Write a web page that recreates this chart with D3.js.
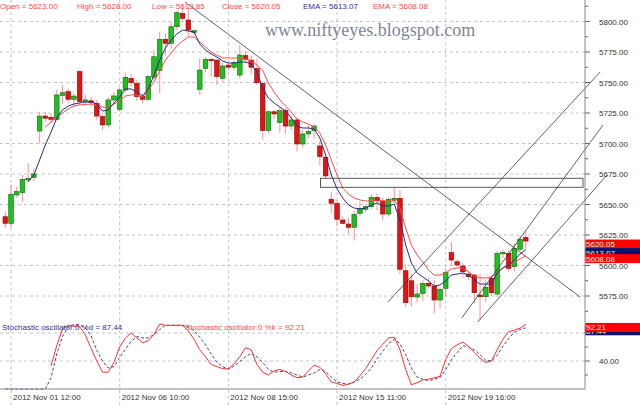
<!DOCTYPE html>
<html><head><meta charset="utf-8">
<script src="https://cdn.jsdelivr.net/npm/d3@7"></script>
<style>body{margin:0;background:#fff}svg{display:block}</style>
</head><body><svg id="c" width="640" height="405"></svg>
<script>
// ---- data (hourly NIFTY candles, bar index 0..91) ----
const opens=[5640.0,5634.6,5657.8,5659.7,5670.1,5672.3,5710.2,5722.5,5721.5,5719.8,
5739.5,5742.5,5736.2,5758.9,5734.3,5735.0,5733.0,5722.0,5715.2,5735.7,
5728.0,5743.9,5753.4,5749.3,5738.4,5736.2,5754.3,5759.7,5785.4,5782.1,
5795.7,5806.7,5801.2,5791.0,5744.4,5761.6,5769.0,5768.4,5753.4,5764.3,
5762.5,5756.1,5772.0,5768.4,5761.6,5749.3,5710.5,5726.0,5717.1,5726.9,
5714.3,5719.3,5699.6,5707.8,5710.5,5698.0,5688.7,5654.3,5651.0,5637.3,
5634.0,5631.3,5642.8,5646.1,5648.2,5655.9,5652.9,5642.2,5653.5,5655.1,
5595.7,5587.5,5574.1,5577.2,5585.4,5583.2,5571.7,5581.3,5610.5,5603.1,
5599.6,5593.0,5592.2,5575.8,5574.4,5589.5,5576.6,5609.8,5610.0,5599.0,
5613.3,5623.0];
const highs=[5644.1,5666.0,5664.6,5674.2,5684.0,5679.7,5726.0,5726.0,5724.7,5743.9,
5748.0,5745.0,5741.0,5760.0,5740.0,5738.0,5736.0,5724.0,5738.0,5742.0,
5746.0,5758.0,5757.0,5752.0,5741.0,5756.0,5777.0,5791.6,5790.0,5800.0,
5809.0,5813.5,5812.0,5793.0,5769.8,5771.0,5770.0,5769.0,5766.0,5766.0,
5768.0,5780.7,5776.0,5772.0,5769.8,5751.0,5727.0,5727.0,5730.0,5729.0,
5723.0,5721.0,5711.0,5715.0,5716.0,5702.0,5690.0,5660.5,5653.5,5640.0,
5639.0,5645.0,5652.0,5650.0,5658.6,5659.0,5656.0,5656.0,5664.6,5661.9,
5601.0,5593.0,5585.0,5588.0,5590.0,5588.1,5582.0,5598.0,5619.5,5605.0,
5602.0,5596.0,5593.0,5593.0,5588.0,5591.0,5612.0,5613.0,5613.0,5618.0,
5624.5,5628.0];
const lows=[5630.7,5630.7,5655.3,5652.3,5668.0,5668.7,5700.2,5718.0,5716.6,5718.9,
5733.0,5733.0,5730.0,5731.6,5731.0,5730.0,5719.0,5711.0,5713.0,5733.0,
5726.0,5742.0,5746.6,5735.0,5733.0,5735.0,5752.0,5741.0,5772.0,5778.0,
5793.0,5799.0,5787.5,5789.0,5739.8,5758.0,5754.8,5748.0,5750.0,5760.0,
5760.0,5753.0,5766.0,5757.0,5748.0,5702.9,5708.0,5720.0,5709.0,5708.0,
5711.0,5693.3,5697.0,5704.0,5704.0,5681.6,5671.5,5642.8,5631.8,5634.0,
5626.0,5620.3,5640.0,5644.0,5646.5,5645.0,5637.0,5640.0,5651.0,5593.0,
5566.2,5566.2,5570.0,5571.0,5581.0,5560.8,5565.0,5575.0,5600.4,5599.0,
5590.0,5588.0,5569.0,5555.5,5570.0,5575.0,5574.0,5606.0,5595.0,5595.0,
5612.0,5613.85];
const closes=[5634.6,5658.4,5660.5,5670.6,5671.5,5675.0,5722.5,5720.7,5719.8,5739.8,
5741.6,5736.2,5738.9,5734.3,5735.7,5733.5,5722.5,5715.2,5735.7,5739.0,
5743.9,5754.3,5749.8,5738.4,5736.2,5754.8,5771.1,5785.4,5782.1,5795.7,
5807.2,5802.6,5793.0,5792.5,5760.2,5769.0,5767.9,5754.8,5763.5,5762.5,
5766.2,5772.5,5769.0,5762.5,5749.8,5710.5,5726.0,5724.2,5726.9,5714.3,
5719.3,5699.6,5707.8,5709.8,5714.3,5689.2,5673.4,5651.0,5637.9,5634.6,
5631.3,5642.0,5646.9,5648.2,5655.9,5653.1,5642.2,5654.3,5655.1,5596.9,
5569.5,5574.4,5576.7,5585.4,5583.2,5571.7,5580.5,5594.1,5604.5,5600.4,
5594.9,5590.8,5577.7,5574.4,5582.1,5577.7,5610.0,5610.8,5597.7,5614.0,
5621.5,5620.05];
const emaFast=[null,null,null,null,5668.7,5674.2,5686.5,5698.8,5709.4,5720.9,
5727.5,5730.7,5732.4,5733.2,5734.0,5734.0,5732.4,5726.6,5727.5,5733.2,
5738.1,5744.7,5744.7,5742.2,5738.9,5744.7,5756.1,5768.4,5778.3,5784.8,
5789.8,5793.0,5792.2,5791.4,5781.6,5776.6,5773.4,5770.9,5767.6,5766.0,
5766.0,5766.8,5766.8,5765.2,5758.6,5745.5,5737.3,5733.2,5729.9,5726.6,
5720.9,5714.3,5712.7,5712.7,5711.9,5704.5,5690.6,5674.2,5662.7,5655.3,
5649.6,5647.1,5646.3,5647.1,5649.6,5651.2,5648.8,5648.8,5650.4,5637.3,
5616.8,5602.0,5593.9,5590.6,5587.3,5583.2,5584.0,5587.3,5592.2,5593.0,
5593.9,5592.2,5588.1,5584.8,5584.8,5584.8,5593.9,5598.0,5600.4,5604.5,
5609.4,5613.07];
const emaSlow=[null,null,null,null,null,null,null,5713.5,5717.6,5721.7,
5725.0,5728.3,5730.7,5731.6,5732.0,5732.4,5731.6,5729.9,5729.1,5732.4,
5734.8,5738.9,5739.8,5739.8,5738.1,5743.9,5750.4,5759.4,5768.4,5774.2,
5779.9,5784.0,5787.3,5787.3,5783.2,5779.1,5775.0,5772.5,5770.1,5770.1,
5770.1,5770.1,5769.3,5767.6,5764.3,5760.2,5749.6,5742.2,5735.7,5730.7,
5725.8,5720.1,5717.6,5716.0,5713.5,5708.6,5698.8,5686.5,5674.2,5663.5,
5658.6,5655.3,5653.7,5652.9,5652.9,5652.9,5652.9,5652.9,5652.9,5647.1,
5630.7,5616.8,5608.6,5602.9,5596.3,5592.2,5592.2,5593.9,5597.1,5598.0,
5598.0,5594.7,5591.4,5589.8,5589.8,5590.6,5593.9,5598.0,5600.4,5602.9,
5605.3,5608.08];
const stochK=[null,null,null,null,null,null,null,null,33,62,
86,91,90,89,77,58,40,24,24,38,
60,73,80,73,66,69,78,93,91,91,
91,91,83,71,56,46,35,32,29,29,
36,46,59,56,35,24,20,26,28,25,
20,16,17,26,34,31,22,10,8,5,
7,10,19,29,42,55,64,73,74,56,
28,6,9,13,14,16,18,42,58,63,
67,61,52,44,38,40,56,71,82,84,
87,92.21];
const stochD=[0,0,0,0,0,0,0,0,16,50,
75,89,92,92,87,76,55,40,30,32,
45,57,68,75,73,73,78,85,91,91,
91,91,89,83,74,63,50,38,32,28,
33,39,46,51,46,38,28,24,25,25,
23,20,17,20,23,28,25,17,10,8,
7,10,14,21,30,43,54,65,71,65,
49,30,17,14,12,14,16,28,42,52,
62,60,56,49,41,40,48,61,72,81,
85,87.44];
const dateTickIndex=[1,20,39,58,77];
const dateTickLabels=["2012 Nov 01 12:00","2012 Nov 06 10:00","2012 Nov 08 15:00","2012 Nov 15 11:00","2012 Nov 19 16:00"];
const priceTicks=[5575,5600,5625,5650,5675,5700,5725,5750,5775,5800];
const priceMinorTicks=[5562.5,5587.5,5612.5,5637.5,5662.5,5687.5,5712.5,5737.5,5762.5,5787.5,5812.5];
const stochGrid=[40,80];
const stochLabels=[40];
const stochMinorTicks=[20,60];
// drawn annotations, in (bar index, price)
const downTrend=[[31.4,5816],[100.5,5574.2]];
const resistBox=[[55.1,5671.5],[101,5664.1]];
const channelLines=[
  [[66.9,5570.1],[104,5758.6]],
  [[79.8,5557.0],[104.5,5715.2]],
  [[82.6,5553.7],[105.2,5674.2]]
];

// ---- scales ----
const svg=d3.select("#c");
const W=640,H=405,axisX=585;
const x=d3.scaleLinear().domain([0,91]).range([5.3,525.8]);
const y=d3.scaleLinear().domain([5575,5800]).range([296,21.5]);
const ys=d3.scaleLinear().domain([0,100]).range([389,319]);
const font="'Liberation Sans', Arial, sans-serif";
const gridC="#c4c4c4";

// grid
const g=svg.append("g");
g.selectAll(".hg").data(priceTicks).enter().append("line")
 .attr("x1",0).attr("x2",axisX).attr("y1",d=>y(d)).attr("y2",d=>y(d))
 .attr("stroke",gridC).attr("stroke-dasharray","3,3");
g.selectAll(".sg").data(stochGrid).enter().append("line")
 .attr("x1",0).attr("x2",axisX).attr("y1",d=>ys(d)).attr("y2",d=>ys(d))
 .attr("stroke",gridC).attr("stroke-dasharray","3,3");
g.selectAll(".vg").data(dateTickIndex).enter().append("line")
 .attr("x1",d=>x(d)).attr("x2",d=>x(d)).attr("y1",0).attr("y2",H)
 .attr("stroke",gridC).attr("stroke-dasharray","3,3");

// watermark
svg.append("text").attr("x",265).attr("y",36).text("www.niftyeyes.blogspot.com")
 .attr("font-family","'Liberation Serif','Times New Roman',serif").attr("font-size",18)
 .attr("fill","#7f8596");

// candles
const idx=d3.range(opens.length);
const up=i=>closes[i]>=opens[i];
svg.append("g").selectAll("line").data(idx).enter().append("line")
 .attr("x1",i=>x(i)).attr("x2",i=>x(i)).attr("y1",i=>y(highs[i])).attr("y2",i=>y(lows[i]))
 .attr("stroke","#ff8f8f").attr("stroke-width",1);
const bw=4.6;
svg.append("g").selectAll("rect").data(idx).enter().append("rect")
 .attr("x",i=>x(i)-bw/2).attr("width",bw)
 .attr("y",i=>y(Math.max(opens[i],closes[i])))
 .attr("height",i=>Math.max(1.5,Math.abs(y(opens[i])-y(closes[i]))))
 .attr("fill",i=>up(i)?"#1fbf1f":"#e01414")
 .attr("stroke",i=>up(i)?"#0b6b0b":"#8c0a0a").attr("stroke-width",0.6);

// EMA lines
const ln=arr=>d3.line().defined(i=>arr[i]!=null).x(i=>x(i)).y(i=>y(arr[i]))(idx);
svg.append("path").attr("d",ln(emaSlow)).attr("fill","none").attr("stroke","#ff4a4a").attr("stroke-width",1);
svg.append("path").attr("d",ln(emaFast)).attr("fill","none").attr("stroke","#2a2a86").attr("stroke-width",1);

// annotations
const pt=p=>[x(p[0]),y(p[1])];
const drawSeg=(s)=>svg.append("line").attr("x1",pt(s[0])[0]).attr("y1",pt(s[0])[1])
 .attr("x2",pt(s[1])[0]).attr("y2",pt(s[1])[1]).attr("stroke","#3a3a3a").attr("stroke-width",0.8);
drawSeg(downTrend);
channelLines.forEach(drawSeg);
svg.append("rect").attr("x",x(resistBox[0][0])).attr("y",y(resistBox[0][1]))
 .attr("width",x(resistBox[1][0])-x(resistBox[0][0])).attr("height",y(resistBox[1][1])-y(resistBox[0][1]))
 .attr("fill","none").attr("stroke","#444").attr("stroke-width",0.9);

// stochastic
const sl=arr=>d3.line().defined(i=>arr[i]!=null).x(i=>x(i)).y(i=>ys(arr[i]))(idx);
svg.append("path").attr("d",sl(stochD)).attr("fill","none").attr("stroke","#303080").attr("stroke-width",0.9).attr("stroke-dasharray","3,2");
svg.append("path").attr("d",sl(stochK)).attr("fill","none").attr("stroke","#ff3030").attr("stroke-width",1);

// axes
svg.append("line").attr("x1",axisX).attr("x2",axisX).attr("y1",0).attr("y2",389).attr("stroke","#888");
svg.append("line").attr("x1",0).attr("x2",axisX).attr("y1",389).attr("y2",389).attr("stroke","#888");
svg.selectAll(".pt").data(priceTicks).enter().append("line")
 .attr("x1",axisX).attr("x2",axisX+5).attr("y1",d=>y(d)).attr("y2",d=>y(d)).attr("stroke","#666");
svg.selectAll(".pmt").data(priceMinorTicks).enter().append("line")
 .attr("x1",axisX).attr("x2",axisX+3).attr("y1",d=>y(d)).attr("y2",d=>y(d)).attr("stroke","#666");
svg.selectAll(".pl").data(priceTicks).enter().append("text")
 .attr("x",599).attr("y",d=>y(d)+3).text(d=>d.toFixed(2))
 .attr("font-family",font).attr("font-size",8).attr("fill","#333");
svg.selectAll(".st").data(stochGrid.concat(stochMinorTicks)).enter().append("line")
 .attr("x1",axisX).attr("x2",d=>axisX+(stochGrid.includes(d)?5:3)).attr("y1",d=>ys(d)).attr("y2",d=>ys(d)).attr("stroke","#666");
svg.selectAll(".sl").data(stochLabels).enter().append("text")
 .attr("x",599).attr("y",d=>ys(d)+3).text(d=>d.toFixed(2))
 .attr("font-family",font).attr("font-size",8).attr("fill","#333");
svg.selectAll(".dl").data(dateTickIndex).enter().append("text")
 .attr("x",d=>x(d)+2).attr("y",400).text((d,k)=>dateTickLabels[k])
 .attr("font-family",font).attr("font-size",8).attr("fill","#333");

// value boxes on right axis
const last=opens.length-1;
const box=(v,sc,fill,tc)=>{const cy=sc(v)+3;
 svg.append("rect").attr("x",axisX+0.5).attr("y",cy-4.5).attr("width",W-axisX).attr("height",9).attr("fill",fill);
 svg.append("text").attr("x",axisX+1).attr("y",cy+3).text(v.toFixed(2))
  .attr("font-family",font).attr("font-size",8).attr("fill",tc);};
box(closes[last],y,"#ff0000","#bff8e0");
box(emaFast[last],y,"#10106e","#f4f46a");
box(emaSlow[last],y,"#ff0000","#bff8e0");
box(stochD[last],ys,"#10106e","#f4f46a");
box(stochK[last],ys,"#ff0000","#f0f0f0");

// header legend
const hdr=[["Open = "+opens[last].toFixed(2),0,"#ff4848"],["High = "+highs[last].toFixed(2),77,"#ff4848"],
 ["Low = "+lows[last].toFixed(2),152,"#ff4848"],["Close = "+closes[last].toFixed(2),222,"#ff4848"],
 ["EMA = "+emaFast[last].toFixed(2),303,"#30309a"],["EMA = "+emaSlow[last].toFixed(2),373,"#ff4848"]];
svg.selectAll(".hd").data(hdr).enter().append("text").attr("x",d=>d[1]).attr("y",8.5).text(d=>d[0])
 .attr("font-family",font).attr("font-size",8).attr("fill",d=>d[2]);
svg.append("text").attr("x",2).attr("y",330).text("Stochastic oscillator:0 %d = "+stochD[last].toFixed(2))
 .attr("font-family",font).attr("font-size",8).attr("fill","#30309a");
svg.append("text").attr("x",185).attr("y",330).text("Stochastic oscillator:0 %k = "+stochK[last].toFixed(2))
 .attr("font-family",font).attr("font-size",8).attr("fill","#ff4848");
</script></body></html>
